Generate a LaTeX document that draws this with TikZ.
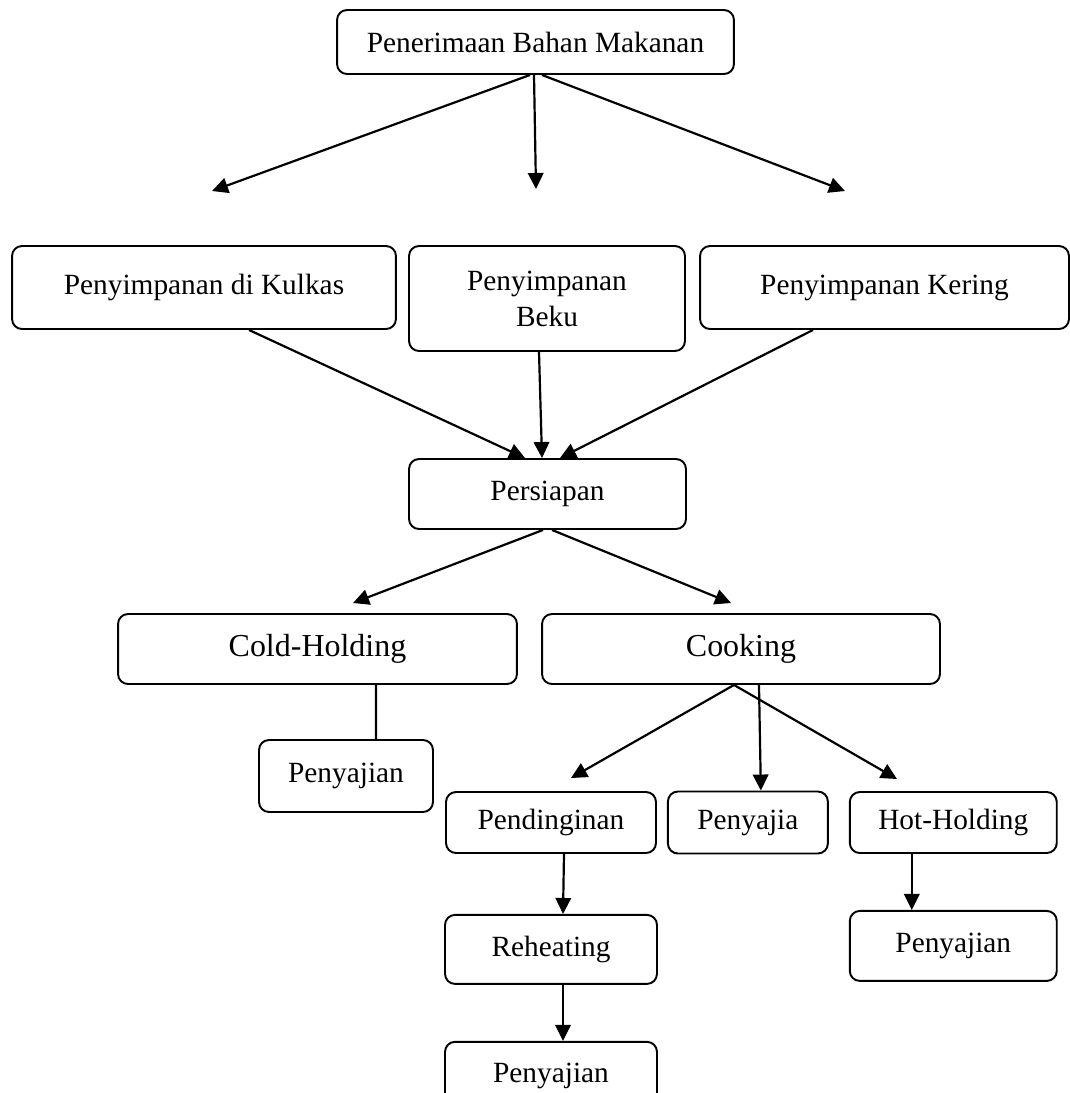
\documentclass[tikz,border=0pt]{standalone}
\usepackage{fontspec}
\setmainfont{Liberation Serif}
\usepackage{tikz}
\usetikzlibrary{positioning,arrows.meta}
\tikzset{main node/.style={draw,rounded corners=0.2cm,line width=1.1pt,inner sep=0pt,
            align=center,font=\fontsize{16.7}{20.5}\selectfont},
         big node/.style={main node,font=\fontsize{18.2}{22}\selectfont},
         flow arrow/.style={line width=1.25pt,
            every edge/.append style={-{Triangle[length=0.32cm,width=0.31cm]}}},
            }

\begin{document}
\begin{tikzpicture}[x=0.02cm,y=-0.02cm]
    \useasboundingbox (0,0) rectangle (1070,1093);
    \clip (0,0) rectangle (1070,1093);
    \node[main node,minimum width=7.94cm,minimum height=1.28cm] (1) at (535.5,42) {Penerimaan Bahan Makanan};
    \node[main node,minimum width=7.68cm,minimum height=1.66cm] (2) at (204,287.5) {Penyimpanan di Kulkas};
    \node[main node,minimum width=5.52cm,minimum height=2.10cm] (3) at (547,298.5) {Penyimpanan\\Beku};
    \node[main node,minimum width=7.38cm,minimum height=1.66cm] (4) at (884.5,287.5) {Penyimpanan Kering};
    \node[main node,minimum width=5.54cm,minimum height=1.40cm] (5) at (547.5,494) {Persiapan};
    \node[big node,minimum width=7.98cm,minimum height=1.40cm] (6) at (317.5,649) {Cold-Holding};
    \node[big node,minimum width=7.96cm,minimum height=1.40cm] (7) at (741,649) {Cooking};
    \node[main node,minimum width=3.48cm,minimum height=1.44cm] (8) at (346,776) {Penyajian};
    \node[main node,minimum width=4.20cm,minimum height=1.22cm] (9) at (551,822.5) {Pendinginan};
    \node[main node,minimum width=3.20cm,minimum height=1.24cm] (10) [right = 0.2cm of 9] {Penyajia};
    \node[main node,minimum width=4.14cm,minimum height=1.22cm] (11) [right = 0.4cm of 10] {Hot-Holding};
    \node[main node,minimum width=4.24cm,minimum height=1.38cm] (12) [below = 1.2cm of 9] {Reheating};
    \node[main node,minimum width=4.14cm,minimum height=1.40cm] (13) [below = 1.12cm of 11] {Penyajian};
    \node[main node,minimum width=4.24cm,minimum height=1.36cm] (14) [below = 1.12cm of 12] {Penyajian};

    % free arrow ends
    \coordinate (t1) at (212,191);
    \coordinate (t2) at (536,189);
    \coordinate (t3) at (845,191);
    \coordinate (t4) at (353,603);
    \coordinate (t5) at (731,603);
    \coordinate (t6) at (571,778);
    \coordinate (t7) at (897,779);

    \path[draw,flow arrow]
    ([xshift=-0.11cm]1.south) edge (t1)
    ([xshift=-0.03cm]1.south) edge (t2)
    ([xshift=0.13cm]1.south) edge (t3)
    ([xshift=0.9cm]2.south) edge ([xshift=-0.45cm]5.north)
    ([xshift=-0.16cm]3.south) edge ([xshift=-0.11cm]5.north)
    ([xshift=-1.43cm]4.south) edge ([xshift=0.25cm]5.north)
    ([xshift=-0.09cm]5.south) edge (t4)
    ([xshift=0.09cm]5.south) edge (t5)
    ([xshift=-0.14cm]7.south) edge (t6)
    ([xshift=0.36cm]7.south) edge ([xshift=0.26cm]10.north)
    ([xshift=-0.14cm]7.south) edge (t7)
    ([xshift=0.26cm]9.south) edge ([xshift=0.24cm]12.north)
    ([xshift=0.24cm]12.south) edge ([xshift=0.24cm]14.north)
    ([xshift=-0.83cm]11.south) edge ([xshift=-0.83cm]13.north)
    ;
    \draw[line width=1.25pt] ([xshift=1.17cm]6.south) -- ([xshift=0.6cm]8.north);
\end{tikzpicture}
\end{document}
